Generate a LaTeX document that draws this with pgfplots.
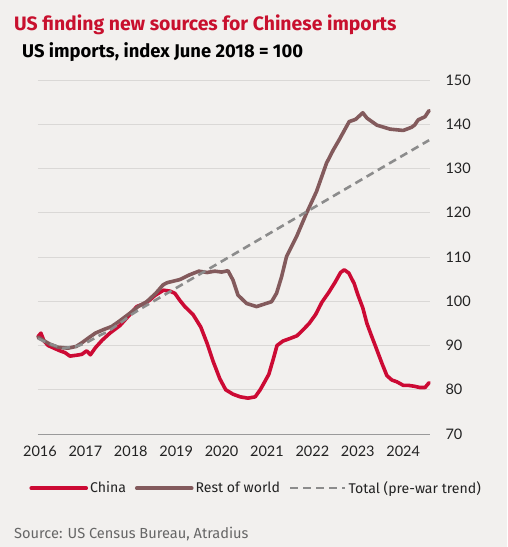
\documentclass[border=0pt]{standalone}
\usepackage{fontspec}
\setmainfont{Fira Sans}
\newfontfamily\tickfont{Lato}
\usepackage{pgfplots}
\pgfplotsset{compat=1.18}
\definecolor{bgc}{HTML}{F2F0EE}
\definecolor{titlered}{HTML}{C8102E}
\definecolor{chinared}{HTML}{CC0A34}
\definecolor{rowbrown}{HTML}{835A5C}
\definecolor{trendgray}{HTML}{8C8C8C}
\definecolor{gridc}{HTML}{DAD8D6}
\definecolor{axisc}{HTML}{9A9A9A}
\definecolor{txt}{HTML}{222222}
\definecolor{srcc}{HTML}{666666}
\begin{document}
\begin{tikzpicture}[x=1pt,y=1pt]
\fill[bgc] (0pt,0pt) rectangle (507pt,-547pt);
\node[anchor=base west,inner sep=0,text=titlered,font=\bfseries\fontsize{19.4}{22}\selectfont] at (14pt,-30pt) {US finding new sources for Chinese imports};
\node[anchor=base west,inner sep=0,text=black,font=\bfseries\fontsize{18.4}{21}\selectfont] at (22pt,-57pt) {US imports, index June 2018 = 100};
\node[anchor=base west,inner sep=0,text=srcc,font=\fontsize{14.6}{17}\selectfont] at (14pt,-538pt) {Source: US Census Bureau, Atradius};
\begin{axis}[
  at={(38pt,-434pt)}, anchor=south west,
  width=392pt, height=354pt, scale only axis,
  xmin=2015.956, xmax=2024.59, ymin=70, ymax=150,
  xtick={2016,2017,...,2024}, ytick={70,80,...,150},
  axis x line*=bottom, axis y line*=right,
  x axis line style={draw=axisc,-}, y axis line style={draw=none},
  major tick length=0pt,
  ymajorgrids, grid style={draw=gridc, line width=1pt},
  /pgf/number format/assume math mode=true,
  /pgf/number format/1000 sep={},
  tick label style={font=\tickfont\fontsize{14.5}{16}\selectfont, text=txt},
  xticklabel style={anchor=north, yshift=-8pt},
  yticklabel style={anchor=west, xshift=12pt},
  clip=false,
  legend style={at={(-0.03,-0.153)}, anchor=west, draw=none, fill=none,
    font=\fontsize{14.1}{16}\selectfont, text=txt, legend columns=3,
    /tikz/every even column/.append style={column sep=7pt}},
  legend image code/.code={\draw[#1] (0pt,0pt) -- (55pt,0pt);},
  every axis plot/.append style={line join=round, line cap=round},
]
\addplot[chinared, line width=3.6pt] coordinates {
(2015.956,92.0) (2016.02,92.8) (2016.09,91.0) (2016.18,90.0) (2016.33,89.3)
(2016.44,88.8) (2016.55,88.4) (2016.66,87.6) (2016.80,87.8) (2016.92,88.0)
(2017.03,88.8) (2017.11,87.9) (2017.22,89.5) (2017.37,91.2) (2017.54,92.8)
(2017.76,94.5) (2017.98,97.0) (2018.13,98.8) (2018.31,99.5) (2018.42,100.3)
(2018.53,101.3) (2018.72,102.5) (2018.86,102.3) (2018.97,101.8) (2019.08,100.2)
(2019.19,98.8) (2019.37,97.0) (2019.54,94.2) (2019.68,90.5) (2019.81,86.5)
(2019.96,82.5) (2020.09,80.0) (2020.25,79.0) (2020.41,78.4) (2020.58,78.1)
(2020.74,78.4) (2020.85,80.0) (2020.96,82.0) (2021.04,83.5) (2021.14,87.0)
(2021.22,90.0) (2021.35,91.0) (2021.51,91.6) (2021.66,92.2) (2021.79,93.5)
(2021.93,95.0) (2022.07,97.0) (2022.21,99.8) (2022.36,102.0) (2022.50,104.3)
(2022.62,106.5) (2022.70,107.1) (2022.80,106.4) (2022.92,104.0) (2023.00,101.5)
(2023.11,98.5) (2023.20,95.0) (2023.29,92.5) (2023.42,89.0) (2023.53,86.0)
(2023.64,83.2) (2023.75,82.2) (2023.86,81.8) (2024.00,81.0) (2024.11,81.0)
(2024.24,80.8) (2024.37,80.5) (2024.48,80.5) (2024.57,81.6)
};
\addlegendentry{China}
\addplot[rowbrown, line width=3.6pt] coordinates {
(2015.956,91.9) (2016.10,91.0) (2016.22,90.3) (2016.40,89.6) (2016.62,89.4)
(2016.80,89.8) (2016.92,90.6) (2017.08,91.8) (2017.22,92.8) (2017.40,93.6)
(2017.58,94.3) (2017.76,95.6) (2017.98,97.3) (2018.16,98.8) (2018.35,99.9)
(2018.55,101.8) (2018.71,103.7) (2018.80,104.2) (2019.08,104.9) (2019.30,106.0)
(2019.50,106.8) (2019.68,106.5) (2019.85,106.8) (2020.00,106.6) (2020.14,106.9)
(2020.25,104.8) (2020.36,101.4) (2020.55,99.5) (2020.77,98.8) (2020.95,99.4)
(2021.10,99.9) (2021.21,101.8) (2021.32,105.5) (2021.43,110.1) (2021.65,114.6)
(2021.87,119.9) (2022.09,124.8) (2022.31,131.2) (2022.46,134.2) (2022.59,136.5)
(2022.81,140.6) (2022.95,141.1) (2023.11,142.6) (2023.20,141.4) (2023.42,139.8)
(2023.71,138.9) (2024.00,138.6) (2024.18,139.3) (2024.25,139.8) (2024.33,141.0)
(2024.48,141.7) (2024.57,143.1)
};
\addlegendentry{Rest of world}
\addplot[trendgray, line width=2.6pt, line cap=butt, dash pattern=on 8pt off 5pt] coordinates {
(2015.956,91.6) (2016.20,90.4) (2016.50,89.4) (2016.80,89.8) (2017.00,90.5)
(2017.30,92.2) (2017.50,93.2) (2017.80,95.3) (2018.00,96.9) (2018.25,98.5)
(2018.50,100.0) (2019.50,106.0) (2020.50,112.0) (2021.50,118.0) (2022.50,124.0)
(2023.50,130.0) (2024.57,136.4)
};
\addlegendentry{Total (pre-war trend)}
\end{axis}
\end{tikzpicture}
\end{document}
